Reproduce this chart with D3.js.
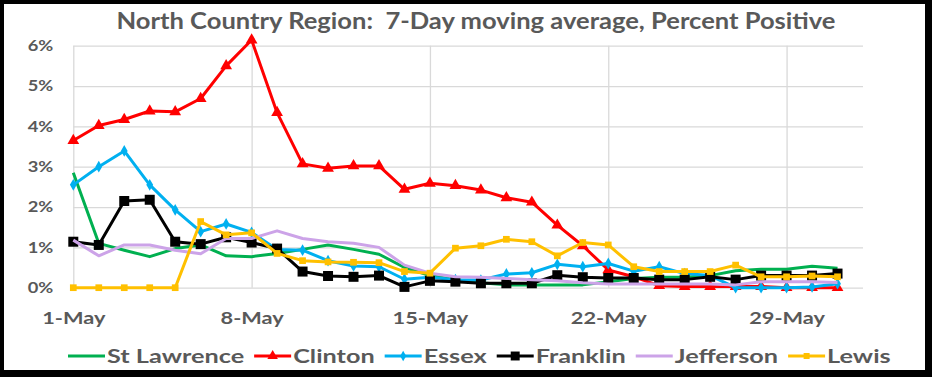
<!DOCTYPE html>
<html>
<head>
<meta charset="utf-8">
<script src="https://cdn.jsdelivr.net/npm/d3@7"></script>
<style>
body { margin: 0; background: #fff; }
text { font-family: Lato, "Open Sans", sans-serif; font-weight: bold; fill: #595959; }
</style>
</head>
<body>
<div id="chart"></div>
<script>
// day of month (May)
const days = [1, 2, 3, 4, 5, 6, 7, 8, 9, 10, 11, 12, 13, 14, 15, 16, 17, 18, 19, 20, 21, 22, 23, 24, 25, 26, 27, 28, 29, 30, 31];

// 7-day moving average, percent positive
const stLawrence = [2.85, 1.10, 0.93, 0.77, 0.97, 1.06, 0.79, 0.77, 0.85, 0.95, 1.06, 0.95, 0.83, 0.50, 0.30, 0.20, 0.12, 0.07, 0.07, 0.07, 0.07, 0.15, 0.23, 0.26, 0.26, 0.30, 0.42, 0.46, 0.46, 0.53, 0.48];
const clinton = [3.65, 4.02, 4.17, 4.38, 4.36, 4.69, 5.50, 6.14, 4.34, 3.07, 2.96, 3.02, 3.02, 2.44, 2.59, 2.53, 2.42, 2.23, 2.12, 1.55, 1.04, 0.44, 0.27, 0.05, 0.03, 0.03, 0.03, 0.03, 0, 0, 0];
const essex = [2.55, 3.00, 3.39, 2.55, 1.93, 1.39, 1.58, 1.37, 0.95, 0.93, 0.67, 0.54, 0.52, 0.21, 0.26, 0.20, 0.19, 0.34, 0.37, 0.58, 0.52, 0.60, 0.41, 0.52, 0.35, 0.30, 0, 0, 0, 0.02, 0.10];
const franklin = [1.14, 1.06, 2.15, 2.18, 1.14, 1.08, 1.25, 1.12, 0.97, 0.40, 0.29, 0.27, 0.30, 0.02, 0.17, 0.15, 0.11, 0.11, 0.11, 0.31, 0.26, 0.24, 0.24, 0.20, 0.20, 0.27, 0.20, 0.30, 0.30, 0.30, 0.35];
const jefferson = [1.18, 0.79, 1.06, 1.06, 0.93, 0.84, 1.22, 1.22, 1.41, 1.22, 1.14, 1.10, 1.00, 0.56, 0.36, 0.27, 0.26, 0.23, 0.20, 0.17, 0.12, 0.09, 0.09, 0.09, 0.09, 0.09, 0.07, 0.15, 0.15, 0.15, 0.13];
const lewis = [0, 0, 0, 0, 0, 1.64, 1.31, 1.36, 0.85, 0.67, 0.64, 0.63, 0.62, 0.40, 0.36, 0.98, 1.04, 1.20, 1.14, 0.79, 1.12, 1.06, 0.52, 0.40, 0.40, 0.40, 0.56, 0.27, 0.27, 0.29, 0.27];

const yTicks = [0, 1, 2, 3, 4, 5, 6];
const xTickDays = [1, 8, 15, 22, 29];
const chartTitle = "North Country Region:  7-Day moving average, Percent Positive";

(function() {
    const width = 932, height = 377;
    // the original text is rendered wide, so glyphs get stretched horizontally
    const stretch = 1.28;
    const legendStretch = 1.33;

    const svg = d3.select("#chart")
        .append("svg")
        .attr("width", width)
        .attr("height", height);

    // black frame
    svg.append("rect").attr("width", width).attr("height", height).attr("fill", "#000");
    svg.append("rect").attr("x", 4).attr("y", 4).attr("width", 921).attr("height", 366).attr("fill", "#fff");

    const left = 73.3, right = 863, top = 45.7, bottom = 287.7;
    const x = d3.scaleTime()
        .domain([new Date(2020, 4, 1), new Date(2020, 5, 1)])
        .range([left, right]);
    const y = d3.scaleLinear()
        .domain([0, 6])
        .range([bottom, top]);

    const dates = days.map(d => new Date(2020, 4, d));

    // horizontal grid + y labels
    const yAxis = svg.append("g")
        .attr("transform", `translate(${left},0)`)
        .call(d3.axisLeft(y)
            .tickValues(yTicks)
            .tickSize(-(right - left))
            .tickPadding(20)
            .tickFormat(d => d + "%"));
    yAxis.select(".domain").remove();
    yAxis.selectAll("line").attr("stroke", "#d9d9d9").attr("stroke-width", 1.3);
    yAxis.selectAll("text")
        .style("font-size", "15px")
        .attr("x", -20 / 1.22)
        .attr("transform", "scale(1.22,1)");

    // vertical grid + x labels
    const xAxis = svg.append("g")
        .attr("transform", `translate(0,${bottom})`)
        .call(d3.axisBottom(x)
            .tickValues(xTickDays.map(d => new Date(2020, 4, d)))
            .tickSize(-(bottom - top))
            .tickPadding(24)
            .tickFormat(d3.timeFormat("%-d-%b")));
    xAxis.select(".domain").remove();
    xAxis.selectAll("line").attr("stroke", "#d9d9d9").attr("stroke-width", 1.3);
    xAxis.selectAll("text")
        .style("font-size", "17px")
        .attr("transform", `scale(${stretch},1)`);

    // title
    svg.append("text")
        .attr("x", 476)
        .attr("y", 29)
        .attr("text-anchor", "middle")
        .attr("textLength", 719)
        .attr("lengthAdjust", "spacingAndGlyphs")
        .style("font-size", "22px")
        .style("white-space", "pre")
        .text(chartTitle);

    const series = [
        { name: "St Lawrence", values: stLawrence, color: "#00b050", symbol: null },
        { name: "Clinton", values: clinton, color: "#ff0000", symbol: d3.symbolTriangle, size: 60 },
        { name: "Essex", values: essex, color: "#00b0f0", symbol: d3.symbolDiamond, size: 40 },
        { name: "Franklin", values: franklin, color: "#000000", symbol: d3.symbolSquare, size: 100 },
        { name: "Jefferson", values: jefferson, color: "#cca3e8", symbol: null },
        { name: "Lewis", values: lewis, color: "#ffc000", symbol: d3.symbolSquare, size: 45 }
    ];

    const line = d3.line()
        .x((d, i) => x(dates[i]))
        .y(d => y(d));

    series.forEach(s => {
        const g = svg.append("g");
        g.append("path")
            .datum(s.values)
            .attr("fill", "none")
            .attr("stroke", s.color)
            .attr("stroke-width", 3)
            .attr("stroke-linejoin", "round")
            .attr("d", line);
        if (s.symbol) {
            g.selectAll("path.mark")
                .data(s.values)
                .enter()
                .append("path")
                .attr("class", "mark")
                .attr("d", d3.symbol().type(s.symbol).size(s.size))
                .attr("fill", s.color)
                .attr("transform", (d, i) => `translate(${x(dates[i])},${y(d)})`);
        }
    });

    // legend
    const legend = svg.append("g").attr("transform", "translate(68,356)");
    let lx = 0;
    series.forEach(s => {
        const item = legend.append("g").attr("transform", `translate(${lx},0)`);
        item.append("line")
            .attr("x1", 0).attr("x2", 37)
            .attr("stroke", s.color).attr("stroke-width", 3);
        if (s.symbol) {
            item.append("path")
                .attr("d", d3.symbol().type(s.symbol).size(s.size * 0.8))
                .attr("transform", "translate(18.5,0)")
                .attr("fill", s.color);
        }
        const t = item.append("text")
            .attr("dy", "0.35em")
            .attr("transform", `translate(39,0) scale(${legendStretch},1)`)
            .style("font-size", "19px")
            .text(s.name);
        lx += 39 + t.node().getComputedTextLength() * legendStretch + 10;
    });
})();
</script>
</body>
</html>
